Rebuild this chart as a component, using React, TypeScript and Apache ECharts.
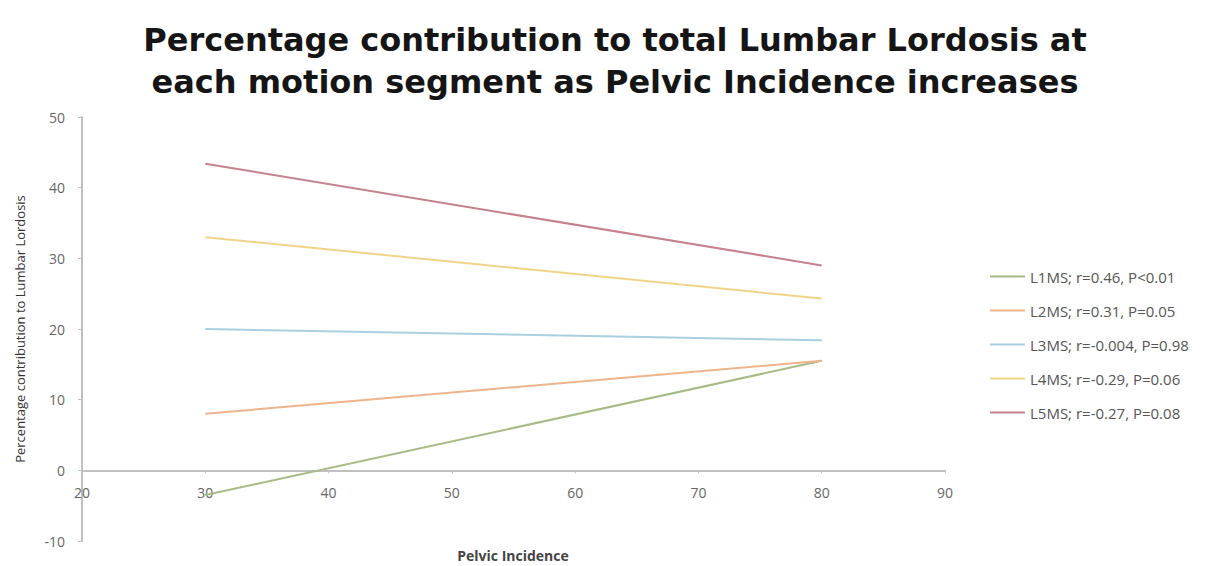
import React, { useEffect, useRef } from "react";
import * as echarts from "echarts";

const xValues = [30, 80];
const seriesNames = [
  "L1MS; r=0.46, P<0.01",
  "L2MS; r=0.31, P=0.05",
  "L3MS; r=-0.004, P=0.98",
  "L4MS; r=-0.29, P=0.06",
  "L5MS; r=-0.27, P=0.08",
];
const l1 = [-3.5, 15.5];
const l2 = [8.0, 15.5];
const l3 = [20.0, 18.4];
const l4 = [33.0, 24.3];
const l5 = [43.4, 29.0];
const seriesValues = [l1, l2, l3, l4, l5];
const colors = ["#a9bb84", "#efb48c", "#a9cfe0", "#f2d38a", "#c6808e"];

const GRID_TOP = 117;
const GRID_BOTTOM_PX = 541;
const Y_MIN = -10;
const Y_MAX = 50;

export default function App() {
  const ref = useRef<HTMLDivElement>(null);
  useEffect(() => {
    document.body.style.margin = "0";
    const chart = echarts.init(ref.current!, null, { renderer: "svg" });
    const pxPerUnit = (GRID_BOTTOM_PX - GRID_TOP) / (Y_MAX - Y_MIN);
    const zeroOffset = -(0 - Y_MIN) * pxPerUnit;
    chart.setOption({
      animation: false,
      backgroundColor: "#ffffff",
      title: {
        text: "Percentage contribution to total Lumbar Lordosis at\neach motion segment as Pelvic Incidence increases",
        left: "center",
        top: 14,
        textStyle: {
          fontFamily: "DejaVu Sans",
          fontWeight: "bold",
          fontSize: 32,
          lineHeight: 42,
          color: "#151515",
        },
      },
      legend: {
        orient: "vertical",
        left: 985,
        top: 264,
        itemWidth: 35,
        itemHeight: 2,
        itemGap: 19,
        icon: "rect",
        textStyle: { fontFamily: "Open Sans", fontSize: 15, color: "#555" },
        data: seriesNames,
      },
      grid: {
        left: 82,
        right: 285,
        top: GRID_TOP,
        bottom: 566 - GRID_BOTTOM_PX,
        containLabel: false,
        outerBoundsMode: "none",
      },
      xAxis: {
        type: "value",
        min: 20,
        max: 90,
        interval: 10,
        offset: zeroOffset,
        axisLine: { onZero: false, lineStyle: { color: "#c0c0c0", width: 2 } },
        axisTick: { show: true, length: 3, inside: false, lineStyle: { color: "#c0c0c0" } },
        axisLabel: { fontFamily: "Open Sans", fontSize: 14, color: "#666", margin: 15 },
        splitLine: { show: false },
      },
      yAxis: {
        type: "value",
        min: Y_MIN,
        max: Y_MAX,
        interval: 10,
        name: "Percentage contribution to Lumbar Lordosis",
        nameLocation: "middle",
        nameGap: 56,
        nameTextStyle: { fontFamily: "Open Sans", fontSize: 13, color: "#333" },
        axisLine: { show: true, lineStyle: { color: "#c0c0c0", width: 2 } },
        axisTick: { show: true, length: 4, lineStyle: { color: "#c0c0c0" } },
        axisLabel: { fontFamily: "Open Sans", fontSize: 14, color: "#666", margin: 17 },
        splitLine: { show: false },
      },
      graphic: [
        {
          type: "text",
          x: 513,
          y: 555,
          style: {
            text: "Pelvic Incidence",
            font: "bold 14px 'Open Sans'",
            fill: "#444",
            align: "center",
            verticalAlign: "middle",
          },
        },
      ],
      series: seriesNames.map((name, i) => ({
        name,
        type: "line",
        showSymbol: false,
        symbol: "none",
        data: xValues.map((x, j) => [x, seriesValues[i][j]]),
        lineStyle: { color: colors[i], width: 2 },
        itemStyle: { color: colors[i] },
      })),
    });
    return () => chart.dispose();
  }, []);
  return <div ref={ref} style={{ width: 1230, height: 566 }} />;
}
